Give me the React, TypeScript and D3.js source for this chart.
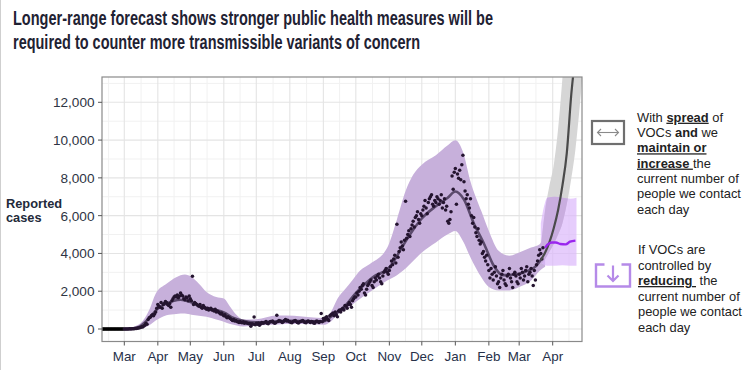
import React from 'react';
import * as d3 from 'd3';

const W = 754;
const H = 370;
const P = { left: 102, right: 582, top: 77, bottom: 341.5 };

const d = (s: string) => new Date(s + 'T00:00:00Z');

const obsStart = ['2020-02-10', '2020-03-01', '2020-04-01', '2020-05-01', '2020-06-01', '2020-07-01', '2020-08-01', '2020-09-01', '2020-10-01', '2020-11-01', '2020-12-01', '2021-01-01', '2021-02-01', '2021-03-01'];
const casesFeb2020 = [0, 0, 0, 0, 0, 0, 0, 0, 0, 0, 0, 0, 0, 0, 0, 0, 0, 0, 0, 0];
const casesMar2020 = [0, 0, 2, 3, 5, 8, 5, 10, 15, 9, 20, 25, 40, 50, 60, 80, 120, 100, 160, 200, 300, 250, 500, 600, 620, 700, 750, 700, 800, 900, 1100];
const casesApr2020 = [1300, 1200, 1150, 1400, 1100, 1300, 1350, 1450, 1400, 1300, 1250, 1350, 1150, 1500, 1600, 1700, 1750, 1700, 1800, 1650, 1750, 1900, 1800, 1750, 1600, 1550, 1700, 1650, 1500, 1750];
const casesMay2020 = [1600, 1500, 2790, 1300, 1400, 1350, 1300, 1250, 1200, 1300, 1150, 1100, 1250, 1150, 1100, 1050, 1100, 1000, 1050, 1100, 1000, 1000, 950, 1050, 900, 950, 900, 850, 800, 850, 750];
const casesJun2020 = [700, 750, 650, 600, 650, 600, 550, 500, 450, 500, 420, 450, 400, 380, 350, 400, 350, 330, 380, 300, 350, 320, 300, 280, 290, 150, 280, 250, 640, 220];
const casesJul2020 = [300, 250, 320, 200, 280, 350, 300, 320, 350, 400, 300, 280, 350, 400, 380, 420, 350, 300, 330, 730, 400, 450, 420, 400, 350, 380, 450, 500, 420, 460, 400];
const casesAug2020 = [380, 350, 330, 400, 420, 450, 400, 350, 320, 380, 400, 420, 450, 380, 350, 330, 400, 420, 380, 350, 400, 380, 320, 300, 400, 420, 380, 350, 400, 820, 380];
const casesSep2020 = [550, 480, 600, 650, 500, 450, 700, 750, 800, 850, 700, 900, 750, 650, 950, 1000, 900, 1050, 1100, 1000, 1250, 1200, 1100, 1300, 1400, 1300, 1150, 1500, 1600, 1700];
const casesOct2020 = [1700, 1900, 1800, 2000, 2200, 2100, 2300, 2400, 1900, 1800, 2100, 2300, 2400, 2500, 2600, 2300, 2200, 2500, 2700, 2600, 2800, 2900, 2700, 2500, 2400, 2800, 3000, 3100, 3200, 3000, 2900];
const casesNov2020 = [3100, 3300, 3600, 3400, 3700, 3900, 3500, 5540, 3800, 4100, 4300, 4600, 4400, 4200, 4700, 6760, 4800, 5000, 5200, 4900, 5300, 5500, 5700, 5400, 5900, 6000, 6200, 5800, 5600, 6100];
const casesDec2020 = [6000, 6300, 6500, 6800, 6400, 6100, 6700, 6900, 7000, 7100, 6600, 6500, 6800, 6700, 7000, 6900, 6600, 6800, 7100, 6400, 6700, 6900, 6300, 6500, 5700, 5600, 5800, 6200, 8100, 7400, 8300];
const casesJan2021 = [8500, 6600, 8200, 7980, 8400, 7900, 8700, 9200, 7800, 7300, 6900, 7100, 6600, 6400, 6900, 6000, 5600, 5900, 5400, 5100, 4900, 5300, 4700, 4500, 4600, 4000, 4100, 3800, 3600, 3900, 3400];
const casesFeb2021 = [3100, 2700, 3200, 2900, 2600, 3000, 3300, 2800, 2400, 2500, 2200, 2700, 2900, 3100, 2600, 2400, 2300, 2800, 2900, 3200, 2700, 2500, 2200, 2900, 3000, 2800, 2500, 2400];
const casesMar2021 = [2900, 2700, 3200, 3000, 2600, 2800, 3100, 3300, 2500, 2900, 3000, 3200, 2800, 2300, 3100, 2600, 3400, 3600, 3900, 4200, 4000, 3700, 4300];
const casesByMonth = [casesFeb2020, casesMar2020, casesApr2020, casesMay2020, casesJun2020, casesJul2020, casesAug2020, casesSep2020, casesOct2020, casesNov2020, casesDec2020, casesJan2021, casesFeb2021, casesMar2021];

// ---- fitted model line ----
const fitDates = ['2020-03-01', '2020-03-08', '2020-03-15', '2020-03-24', '2020-04-01', '2020-04-09', '2020-04-22', '2020-05-01', '2020-05-10', '2020-05-22', '2020-06-01', '2020-06-10', '2020-06-20', '2020-07-01', '2020-07-15', '2020-08-01', '2020-08-15', '2020-09-01', '2020-09-08', '2020-09-20', '2020-10-01', '2020-10-08', '2020-10-17', '2020-11-01', '2020-11-14', '2020-11-23', '2020-12-01', '2020-12-14', '2020-12-25', '2021-01-01', '2021-01-09', '2021-01-18', '2021-01-28', '2021-02-05', '2021-02-14', '2021-03-01', '2021-03-10', '2021-03-16', '2021-03-21'];
const fitValues = [0, 25, 130, 570, 1080, 1350, 1550, 1430, 1220, 1030, 880, 580, 420, 350, 390, 430, 420, 400, 650, 1150, 1900, 2300, 2750, 3260, 4450, 5250, 5850, 6500, 6950, 7280, 6850, 5600, 4450, 3400, 2850, 2920, 3100, 3300, 3650];

// ---- model uncertainty band ----
const bandDates = ['2020-03-01', '2020-03-10', '2020-03-18', '2020-03-24', '2020-03-30', '2020-04-09', '2020-04-18', '2020-04-26', '2020-05-02', '2020-05-09', '2020-05-16', '2020-05-25', '2020-06-01', '2020-06-07', '2020-06-13', '2020-06-19', '2020-07-01', '2020-07-20', '2020-08-05', '2020-08-20', '2020-09-01', '2020-09-08', '2020-09-14', '2020-09-21', '2020-09-28', '2020-10-05', '2020-10-14', '2020-10-30', '2020-11-08', '2020-11-16', '2020-11-23', '2020-12-01', '2020-12-14', '2020-12-25', '2021-01-01', '2021-01-08', '2021-01-15', '2021-01-25', '2021-02-01', '2021-02-10', '2021-02-20', '2021-03-01', '2021-03-12', '2021-03-20', '2021-03-25'];
const bandLower = [0, 0, 40, 200, 450, 730, 800, 820, 760, 700, 645, 500, 380, 260, 180, 130, 180, 240, 260, 250, 220, 400, 750, 1000, 1300, 1600, 1960, 2570, 2850, 3200, 3600, 4050, 4580, 5010, 5190, 4660, 3790, 2740, 2220, 2040, 2040, 2220, 2570, 3090, 3300];
const bandUpper = [0, 120, 420, 1000, 1870, 2390, 2740, 2880, 2760, 2390, 1955, 1690, 1610, 1170, 730, 500, 520, 720, 700, 620, 580, 900, 1600, 2100, 2600, 3100, 3440, 4300, 5800, 7300, 8160, 8700, 9200, 9730, 9990, 9380, 7810, 6240, 5190, 4140, 3880, 4050, 4310, 4490, 5200];

// ---- forecast: VOC spread, contacts maintained ----
const spreadDates = ['2021-03-21', '2021-03-25', '2021-03-29', '2021-04-02', '2021-04-06', '2021-04-10', '2021-04-14', '2021-04-18', '2021-04-22', '2021-04-26', '2021-04-30'];
const spreadMid = [3650, 4050, 4600, 5350, 6300, 7600, 9300, 12300, 14700, 18200, 22500];
const spreadLower = [3400, 3700, 4100, 4500, 5000, 5600, 6600, 7900, 9500, 11800, 14500];
const spreadUpper = [4300, 6300, 7600, 8700, 10600, 13300, 16500, 21000, 26000, 32000, 40000];

// ---- forecast: VOCs controlled, contacts reduced ----
const ctrlBandDates = ['2021-03-21', '2021-03-24', '2021-03-27', '2021-04-03', '2021-04-10', '2021-04-17', '2021-04-23'];
const ctrlLower = [3500, 3400, 3350, 3350, 3380, 3350, 3350];
const ctrlUpper = [5600, 6500, 6950, 7000, 6950, 6900, 6950];
const ctrlDates = ['2021-03-25', '2021-03-27', '2021-03-31', '2021-04-04', '2021-04-08', '2021-04-13', '2021-04-17', '2021-04-22'];
const ctrlValues = [4300, 4450, 4580, 4580, 4500, 4480, 4620, 4680];

const yTicks = [0, 2000, 4000, 6000, 8000, 10000, 12000];

const FONT = "'Liberation Sans', Arial, Helvetica, sans-serif";

export default function App() {
  const x = d3.scaleUtc().domain([d('2020-03-01'), d('2021-04-01')]).range([124.3, 552.7]);
  const y = d3.scaleLinear().domain([0, 12000]).range([329, 102.3]);

  const points: { t: Date; v: number }[] = [];
  casesByMonth.forEach((arr, mi) => {
    const s = d(obsStart[mi]);
    arr.forEach((v, i) => points.push({ t: d3.utcDay.offset(s, i), v }));
  });

  const line = d3.line<[Date, number]>().x((p) => x(p[0])).y((p) => y(p[1])).curve(d3.curveMonotoneX);
  const area = d3
    .area<[Date, number, number]>()
    .x((p) => x(p[0]))
    .y0((p) => y(p[1]))
    .y1((p) => y(p[2]))
    .curve(d3.curveMonotoneX);

  const fitPath = line(fitDates.map((s, i) => [d(s), fitValues[i]]));
  const bandPath = area(bandDates.map((s, i) => [d(s), bandLower[i], bandUpper[i]]));
  const spreadBand = area(spreadDates.map((s, i) => [d(s), spreadLower[i], spreadUpper[i]]));
  const spreadLine = line(spreadDates.map((s, i) => [d(s), spreadMid[i]]));
  const ctrlBand = area(ctrlBandDates.map((s, i) => [d(s), ctrlLower[i], ctrlUpper[i]]));
  const ctrlLine = line(ctrlDates.map((s, i) => [d(s), ctrlValues[i]]));

  const months = d3.utcMonth.range(d('2020-03-01'), d('2021-04-02'));
  const monthsAll = d3.utcMonth.range(d('2020-02-01'), d('2021-05-02'));
  const minorX: Date[] = [];
  for (let i = 0; i < monthsAll.length - 1; i++) {
    minorX.push(new Date((monthsAll[i].getTime() + monthsAll[i + 1].getTime()) / 2));
  }
  const minorY = d3.range(-1000, 14000, 1000).filter((v) => v % 2000 !== 0);
  const majorY = d3.range(0, 14000, 2000);

  const inX = (px: number) => px > P.left && px < P.right;
  const inY = (py: number) => py > P.top && py < P.bottom;

  return (
    <div style={{ position: 'absolute', left: 0, top: 0 }}>
      <svg width={W} height={H} style={{ display: 'block', background: '#fff' }} fontFamily={FONT}>
        <defs>
          <clipPath id="panel">
            <rect x={P.left} y={P.top} width={P.right - P.left} height={P.bottom - P.top} />
          </clipPath>
          <clipPath id="ctrlclip">
            <path d={ctrlBand || ''} />
          </clipPath>
        </defs>
        <line x1={0.5} x2={0.5} y1={0} y2={H} stroke="#cfcfcf" />

        <text x={13} y={25} fontSize={20} fontWeight="bold" fill="#1f2233" textLength={480} lengthAdjust="spacingAndGlyphs">
          Longer-range forecast shows stronger public health measures will be
        </text>
        <text x={13} y={48.5} fontSize={20} fontWeight="bold" fill="#1f2233" textLength={407} lengthAdjust="spacingAndGlyphs">
          required to counter more transmissible variants of concern
        </text>

        {/* grid */}
        {minorX.map((t, i) =>
          inX(x(t)) ? <line key={'mx' + i} x1={x(t)} x2={x(t)} y1={P.top} y2={P.bottom} stroke="#f1f1f1" strokeWidth={1} /> : null
        )}
        {minorY.map((v) =>
          inY(y(v)) ? <line key={'my' + v} x1={P.left} x2={P.right} y1={y(v)} y2={y(v)} stroke="#f1f1f1" strokeWidth={1} /> : null
        )}
        {months.map((t, i) => (
          <line key={'gx' + i} x1={x(t)} x2={x(t)} y1={P.top} y2={P.bottom} stroke="#e4e4e4" strokeWidth={1.1} />
        ))}
        {majorY.map((v) =>
          inY(y(v)) ? <line key={'gy' + v} x1={P.left} x2={P.right} y1={y(v)} y2={y(v)} stroke="#e4e4e4" strokeWidth={1.1} /> : null
        )}

        <g clipPath="url(#panel)">
          <path d={spreadBand || ''} fill="#d6d6d6" />
          <path d={bandPath || ''} fill="#c7b0db" />
          <path d={ctrlBand || ''} fill="#dcb8fb" fillOpacity={0.7} />
          <g clipPath="url(#ctrlclip)">
            <path d={spreadBand || ''} fill="#c9addf" />
          </g>
          <path d={fitPath || ''} fill="none" stroke="#5b4a6c" strokeWidth={2.6} />
          {points.map((p, i) => (
            <circle key={'pt' + i} cx={x(p.t)} cy={y(p.v)} r={1.75} fill={p.v === 0 && p.t < d('2020-03-01') ? '#000' : '#24142f'} />
          ))}
          <path d={spreadLine || ''} fill="none" stroke="#4a4a4a" strokeWidth={2.2} />
          <path d={ctrlLine || ''} fill="none" stroke="#9a26ee" strokeWidth={2.4} />
        </g>

        <rect x={P.left} y={P.top} width={P.right - P.left} height={P.bottom - P.top} fill="none" stroke="#8a8a8a" strokeWidth={1.2} />

        {/* y axis */}
        {yTicks.map((v) => (
          <g key={'yt' + v}>
            <line x1={P.left - 4} x2={P.left} y1={y(v)} y2={y(v)} stroke="#555" />
            <text x={94.5} y={y(v)} dy="0.36em" textAnchor="end" fontSize={13.6} fill="#2e3444">
              {d3.format(',')(v)}
            </text>
          </g>
        ))}
        {/* x axis */}
        {months.map((t, i) => (
          <g key={'xt' + i}>
            <line x1={x(t)} x2={x(t)} y1={P.bottom} y2={P.bottom + 4} stroke="#555" />
            <text x={x(t)} y={361} textAnchor="middle" fontSize={13.4} fill="#27314a">
              {d3.utcFormat('%b')(t)}
            </text>
          </g>
        ))}

        <text x={6} y={207.5} fontSize={12.8} fontWeight="bold" fill="#222a3a">Reported</text>
        <text x={6} y={221.5} fontSize={12.8} fontWeight="bold" fill="#222a3a">cases</text>

        {/* legend 1 */}
        <rect x={592} y={121} width={32} height={23} fill="none" stroke="#6f6f6f" strokeWidth={2.2} />
        <line x1={597.5} x2={618.5} y1={132.5} y2={132.5} stroke="#8a8a8a" strokeWidth={1.1} />
        <path d="M601,129 L597.5,132.5 L601,136 M615,129 L618.5,132.5 L615,136" fill="none" stroke="#8a8a8a" strokeWidth={1.1} />
        <g fontSize={12.9} fill="#222">
          <text x={637} y={121.7}>
            With <tspan fontWeight="bold" style={{ textDecoration: 'underline' }}>spread</tspan> of
          </text>
          <text x={637} y={137}>
            VOCs <tspan fontWeight="bold">and</tspan> we
          </text>
          <text x={637} y={152.3}>
            <tspan fontWeight="bold" style={{ textDecoration: 'underline' }}>maintain or</tspan>
          </text>
          <text x={637} y={167.6} style={{ whiteSpace: 'pre' }}>
            <tspan fontWeight="bold" style={{ textDecoration: 'underline' }}>increase </tspan>the
          </text>
          <text x={637} y={183}>current number of</text>
          <text x={637} y={198.3}>people we contact</text>
          <text x={637} y={213.6}>each day</text>
        </g>

        {/* legend 2 */}
        <path d="M604.5,264.5 H596 V286.5 H630 V264.5 H621.5" fill="none" stroke="#b58ae8" strokeWidth={2.4} />
        <path d="M613,265.5 V281 M607.5,275.5 L613,281 L618.5,275.5" fill="none" stroke="#b58ae8" strokeWidth={2.2} />
        <g fontSize={12.9} fill="#222">
          <text x={638} y={254.2}>If VOCs are</text>
          <text x={638} y={269.6}>controlled by</text>
          <text x={638} y={285} style={{ whiteSpace: 'pre' }}>
            <tspan fontWeight="bold" style={{ textDecoration: 'underline' }}>reducing </tspan> the
          </text>
          <text x={638} y={300.6}>current number of</text>
          <text x={638} y={316}>people we contact</text>
          <text x={638} y={331.6}>each day</text>
        </g>
      </svg>
    </div>
  );
}
